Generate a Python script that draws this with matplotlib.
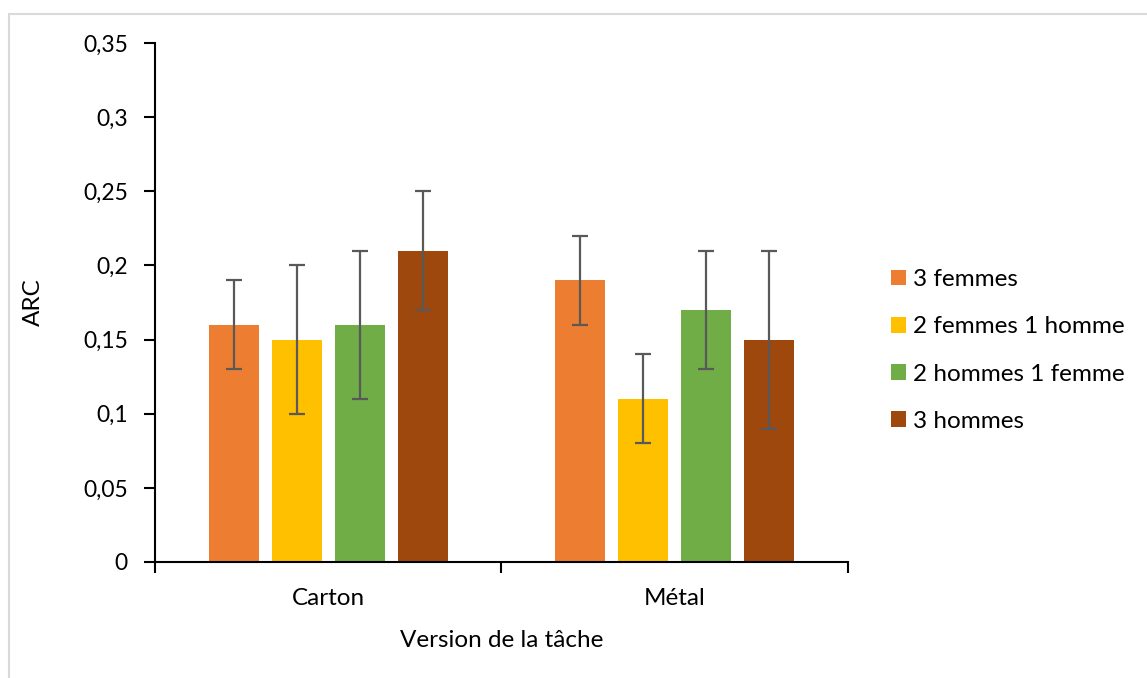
import matplotlib.pyplot as plt
import matplotlib.patches as mpatches
import numpy as np

plt.rcParams['font.family'] = ['Lato', 'DejaVu Sans']

categories = ["Carton", "Métal"]
groups = ["3 femmes", "2 femmes 1 homme", "2 hommes 1 femme", "3 hommes"]
values = [
    [0.16, 0.19],
    [0.15, 0.11],
    [0.16, 0.17],
    [0.21, 0.15],
]
errors = [
    [0.03, 0.03],
    [0.05, 0.03],
    [0.05, 0.04],
    [0.04, 0.06],
]
colors = ["#ED7D31", "#FFC000", "#70AD47", "#9E480E"]
yticks = [0, 0.05, 0.1, 0.15, 0.2, 0.25, 0.3, 0.35]
ytick_labels = ["0", "0,05", "0,1", "0,15", "0,2", "0,25", "0,3", "0,35"]

fig = plt.figure(figsize=(11.47, 6.78), dpi=100)
ax = fig.add_axes([0.1351, 0.1711, 0.6042, 0.7655])

# light frame around the chart (only top and left are visible)
fig.patches.append(mpatches.Rectangle(
    (9 / 1147, -0.1), 1.2, 1.1 - 13.5 / 678, transform=fig.transFigure,
    fill=False, edgecolor="#D9D9D9", linewidth=1.5))

x = np.arange(len(categories))
width = 0.144
step = 0.1816
for i, (name, vals, errs, col) in enumerate(zip(groups, values, errors, colors)):
    pos = x + (i - 1.5) * step
    ax.bar(pos, vals, width=width, color=col, label=name, zorder=2)
    ax.errorbar(pos, vals, yerr=errs, fmt="none", ecolor="#595959",
                elinewidth=1.6, capsize=6, capthick=1.6, zorder=3)

ax.set_xlim(-0.5, 1.5)
ax.set_ylim(0, 0.35)
ax.set_yticks(yticks)
ax.set_yticklabels(ytick_labels)

ax.set_xticks([-0.5, 0.5, 1.5])
ax.set_xticklabels([])
ax.set_xticks(x, minor=True)
ax.set_xticklabels(categories, minor=True)
ax.tick_params(axis="both", which="major", length=8, width=1.5, colors="black",
               labelsize=16.5)
ax.tick_params(axis="x", which="minor", length=0, pad=19, labelsize=17.5)
ax.tick_params(axis="y", pad=11.5)

for s in ["top", "right"]:
    ax.spines[s].set_visible(False)
for s in ["left", "bottom"]:
    ax.spines[s].set_linewidth(1.5)

ax.set_xlabel("Version de la tâche", fontsize=17.5, labelpad=15)
ax.set_ylabel("ARC", fontsize=17.5, labelpad=28)

fig.legend(loc="center left", bbox_to_anchor=(0.7577, 0.483), frameon=False,
           fontsize=17.5, handlelength=0.62, handleheight=0.62,
           handletextpad=0.3, labelspacing=1.08)

fig.savefig("out.png", dpi=100)
